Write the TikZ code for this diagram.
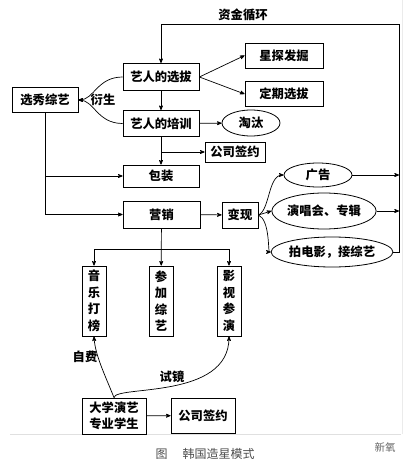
\documentclass[tikz,border=0pt]{standalone}
\usepackage{fontspec}
\setmainfont{Noto Sans CJK SC}
\usepackage{tikz}
\usetikzlibrary{arrows}
\usetikzlibrary{shapes}

\begin{document}
\begin{tikzpicture}
        [x=1pt,y=-1pt,
        box/.style={rectangle,draw=black,line width=0.8pt,inner sep=0pt,text centered,font=\fontsize{12.3}{14}\selectfont\bfseries},
        vbox/.style={box,minimum width=24pt,minimum height=70pt,align=center,font=\fontsize{12.3}{16.5}\selectfont\bfseries},
        oval/.style={ellipse,draw=black,line width=0.8pt,inner sep=0pt,text centered,font=\fontsize{12.3}{14}\selectfont\bfseries},
        word/.style={font=\fontsize{12.3}{14}\selectfont\bfseries},
        link/.style={->,>=stealth',line width=0.7pt}]

\useasboundingbox (0,0) rectangle (407,465);

% frame
\draw[black!12,line width=0.8pt] (10,434) -- (401,434);
\draw[black!8,line width=0.8pt] (402,0) -- (402,434);

% types
\node[box,minimum width=76pt,minimum height=27pt] at (161,77) (xuanba) {艺人的选拔};
\node[box,minimum width=78pt,minimum height=25pt] at (284,55.5) (xingtan) {星探发掘};
\node[box,minimum width=78pt,minimum height=25pt] at (284,94) (dingqi) {定期选拔};
\node[box,minimum width=66pt,minimum height=25pt] at (45,100) (xuanxiu) {选秀综艺};
\node[box,minimum width=76pt,minimum height=26pt] at (161,123.5) (peixun) {艺人的培训};
\node[oval,minimum width=58pt,minimum height=26pt] at (251,123) (taotai) {淘汰};
\node[box,minimum width=60pt,minimum height=20pt] at (235,152) (qianyue) {公司签约};
\node[box,minimum width=76pt,minimum height=22pt] at (161,176) (baozhuang) {包装};
\node[box,minimum width=77pt,minimum height=27pt] at (161.5,214.5) (yingxiao) {营销};
\node[box,minimum width=36pt,minimum height=26pt] at (240,215) (bianxian) {变现};
\node[oval,minimum width=68pt,minimum height=24pt] at (318,175) (guanggao) {广告};
\node[oval,minimum width=81pt,minimum height=36pt] at (324,211) (yanchang) {演唱会、专辑};
\node[oval,minimum width=102pt,minimum height=30pt] at (332,252) (paidianying) {拍电影，接综艺};

\node[vbox] at (94,301) (yinyue) {音\\乐\\打\\榜};
\node[vbox] at (161,301) (canjia) {参\\加\\综\\艺};
\node[vbox] at (229,301) (yingshi) {影\\视\\参\\演};

\node[box,minimum width=64pt,minimum height=36pt,align=center,font=\fontsize{12.3}{16}\selectfont\bfseries] at (114,416) (xuesheng) {大学演艺\\专业学生};
\node[box,minimum width=64pt,minimum height=35pt] at (203,415.5) (qianyue2) {公司签约};

% labels
\node[word] at (243,15) (zijin) {资金循环};
\node[word] at (103,100) (yansheng) {衍生};
\node[word] at (85,357) (zifei) {自费};
\node[word] at (172,377) (shijing) {试镜};
\node[font=\fontsize{12}{14}\selectfont,text=black!70] at (205,454) (caption) {图\hspace{1.25em}韩国造星模式};
\node[font=\fontsize{10.5}{14}\selectfont,text=black!60] at (385,447) (logo) {新氧};

\coordinate (loop) at (399,24);
\coordinate (split) at (161,249);

%arrows
\draw[link] (paidianying.east) -| (loop) -| (xuanba.north);
\draw[link] (guanggao.east) -- (guanggao.east -| loop);
\draw[link] (yanchang.east) -- (yanchang.east -| loop);

\draw[link] (xuanba.east) -- (xingtan.west);
\draw[link] (xuanba.east) -- (dingqi.west);
\draw[link] (xuanba) -- (peixun);
\draw[link] (xuanba.west) .. controls (97,77) and (94,100) .. (xuanxiu.east);
\draw[link] (peixun.west) .. controls (97,123.5) and (94,100) .. (xuanxiu.east);
\draw[link] (peixun) -- (taotai);
\draw[link] (peixun) -- (baozhuang);
\draw[link] (peixun.south |- qianyue.west) -- (qianyue.west);

\draw[link] (xuanxiu.south) |- (yingxiao.west);
\draw[link] (xuanxiu.south |- baozhuang.west) -- (baozhuang.west);

\draw[link] (yingxiao) -- (bianxian);
\draw[link] (bianxian.east) .. controls (270,210) and (268,175) .. (guanggao.west);
\draw[link] (bianxian.east) -- (yanchang.west);
\draw[link] (bianxian.east) .. controls (270,220) and (268,252) .. (paidianying.west);

\draw[link] (yingxiao) -- (canjia);
\draw[link] (split) -| (yinyue.north);
\draw[link] (split) -| (yingshi.north);

\draw[link] (xuesheng.north) .. controls (105,375) and (95,355) .. (yinyue.south);
\draw[link] (xuesheng.north) .. controls (115,385) and (229,400) .. (yingshi.south);
\draw[link] (xuesheng) -- (qianyue2);

\end{tikzpicture}
\end{document}
